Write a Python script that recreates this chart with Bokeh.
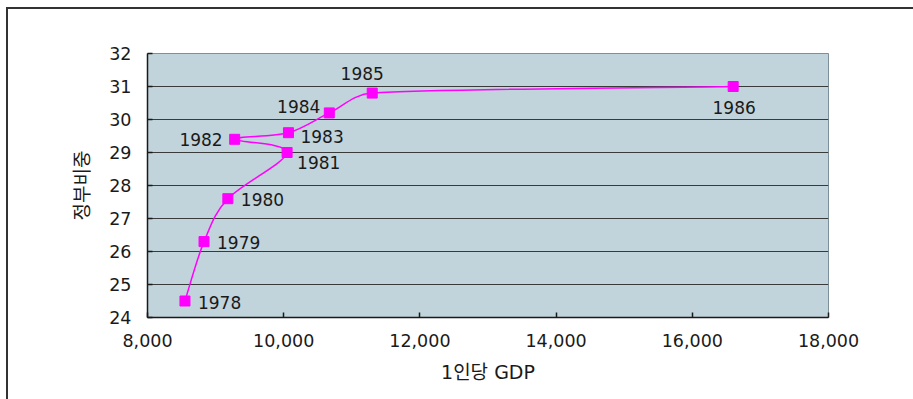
import numpy as np
from bokeh.plotting import figure
from bokeh.models import (Range1d, FixedTicker, NumeralTickFormatter, ColumnDataSource, Label)
from bokeh.core.properties import value
from bokeh.embed import file_html
from bokeh.resources import INLINE

# ---------------- data ----------------
years = ["1978", "1979", "1980", "1981", "1982", "1983", "1984", "1985", "1986"]
gdp_per_capita = [8550, 8830, 9180, 10050, 9280, 10070, 10670, 11300, 16600]
gov_share = [24.5, 26.3, 27.6, 29.0, 29.4, 29.6, 30.2, 30.8, 31.0]

x_ticks = [8000, 10000, 12000, 14000, 16000, 18000]
y_ticks = [24, 25, 26, 27, 28, 29, 30, 31, 32]

x_title = "1인당 GDP"
y_title = "정부비중"
unit_note = "(단위 : %)"

# label placement (layout, not data)
label_align = ["left", "left", "left", "left", "right", "left", "right", "center", "center"]
label_dx = [13, 13, 13, 10, -12, 12, -9, -10, 1]
label_dy = [1, 1, 1, 10, 0, 4, -6, -20, 21]

# ---------------- layout ----------------
W, H = 913, 399
B_LEFT, B_RIGHT, B_TOP, B_BOTTOM = 147, 85, 53, 82
FRAME_W = W - B_LEFT - B_RIGHT
FRAME_H = H - B_TOP - B_BOTTOM
X0, X1 = x_ticks[0], x_ticks[-1]
Y0, Y1 = y_ticks[0], y_ticks[-1]

FONT = "DejaVu Sans, Noto Sans CJK KR"
TXT = "#1a1a1a"

p = figure(width=W, height=H, output_backend="svg", toolbar_location=None,
           x_range=Range1d(X0, X1), y_range=Range1d(Y0, Y1),
           min_border_left=B_LEFT, min_border_right=B_RIGHT,
           min_border_top=B_TOP, min_border_bottom=B_BOTTOM)
p.background_fill_color = "#C1D3DB"
p.border_fill_color = "white"
p.border_fill_alpha = 0
p.outline_line_color = "#7d8f98"
p.outline_line_width = 1
# outer chart box: only its left and top edges fall inside the window
p.styles = {"background-color": "white",
            "box-shadow": "inset 6px 7px 0 0 white, inset 8px 9px 0 0 #333333"}

p.xgrid.grid_line_color = None
p.ygrid.grid_line_color = "#3a3a3a"
p.ygrid.grid_line_width = 1
p.ygrid.ticker = FixedTicker(ticks=y_ticks)

for ax in (p.xaxis[0], p.yaxis[0]):
    ax.axis_line_color = "#1a1a1a"
    ax.axis_line_width = 1.5
    ax.major_tick_in = 5
    ax.major_tick_out = 0
    ax.major_tick_line_color = "#1a1a1a"
    ax.major_tick_line_width = 1.5
    ax.minor_tick_line_color = None
    ax.major_label_text_font = FONT
    ax.major_label_text_font_size = "17.5px"
    ax.major_label_text_color = TXT
    ax.major_label_standoff = 16
    ax.axis_label_text_font = FONT
    ax.axis_label_text_font_size = "19px"
    ax.axis_label_text_font_style = "normal"
    ax.axis_label_text_color = TXT

p.xaxis.ticker = FixedTicker(ticks=x_ticks)
p.xaxis.formatter = NumeralTickFormatter(format="0,0")
p.yaxis.ticker = FixedTicker(ticks=y_ticks)
p.xaxis.axis_label = x_title
p.yaxis.axis_label = y_title
p.xaxis.axis_label_standoff = 11
p.yaxis.axis_label_standoff = 13

# ---------------- smoothed line (bezier through the data points) ----------------
px = (np.array(gdp_per_capita, float) - X0) / (X1 - X0) * FRAME_W
py = (np.array(gov_share, float) - Y0) / (Y1 - Y0) * FRAME_H
P = np.column_stack([px, py])
n = len(P)
seg = dict(x0=[], y0=[], x1=[], y1=[], cx0=[], cy0=[], cx1=[], cy1=[])


def to_data(pt):
    return (pt[0] / FRAME_W * (X1 - X0) + X0, pt[1] / FRAME_H * (Y1 - Y0) + Y0)


for i in range(n - 1):
    a = P[max(i - 1, 0)]
    b = P[i]
    c = P[i + 1]
    d = P[min(i + 2, n - 1)]
    L = np.hypot(*(c - b))
    t1 = (c - a) / 6.0
    t2 = (d - b) / 6.0
    m1 = np.hypot(*t1)
    m2 = np.hypot(*t2)
    if m1 > 0.4 * L:
        t1 = t1 / m1 * 0.4 * L
    if m2 > 0.4 * L:
        t2 = t2 / m2 * 0.4 * L
    c1 = b + t1
    c2 = c - t2
    for key, pt in (("0", b), ("1", c)):
        xx, yy = to_data(pt)
        seg["x" + key].append(xx)
        seg["y" + key].append(yy)
    xx, yy = to_data(c1)
    seg["cx0"].append(xx); seg["cy0"].append(yy)
    xx, yy = to_data(c2)
    seg["cx1"].append(xx); seg["cy1"].append(yy)

p.bezier(x0="x0", y0="y0", x1="x1", y1="y1", cx0="cx0", cy0="cy0", cx1="cx1", cy1="cy1",
         source=ColumnDataSource(seg), line_color="#FF00FF", line_width=1.5)

src = ColumnDataSource(dict(x=gdp_per_capita, y=gov_share, year=years,
                            align=label_align, dx=label_dx, dy=label_dy))
p.scatter("x", "y", source=src, marker="square", size=10,
          fill_color="#FF00FF", line_color="#FF00FF")
p.text("x", "y", text="year", source=src, x_offset="dx", y_offset="dy",
       text_align="align", text_baseline="middle",
       text_font=value("DejaVu Sans"), text_font_size="17px", text_color=TXT)

# unit note, clipped at the top edge as in the reference
p.add_layout(Label(x=858, y=5, x_units="canvas", y_units="canvas", text=unit_note,
                   text_baseline="bottom", text_align="left",
                   text_font=FONT, text_font_size="16px", text_color=TXT))

open("out.html", "w").write(file_html(p, INLINE))
